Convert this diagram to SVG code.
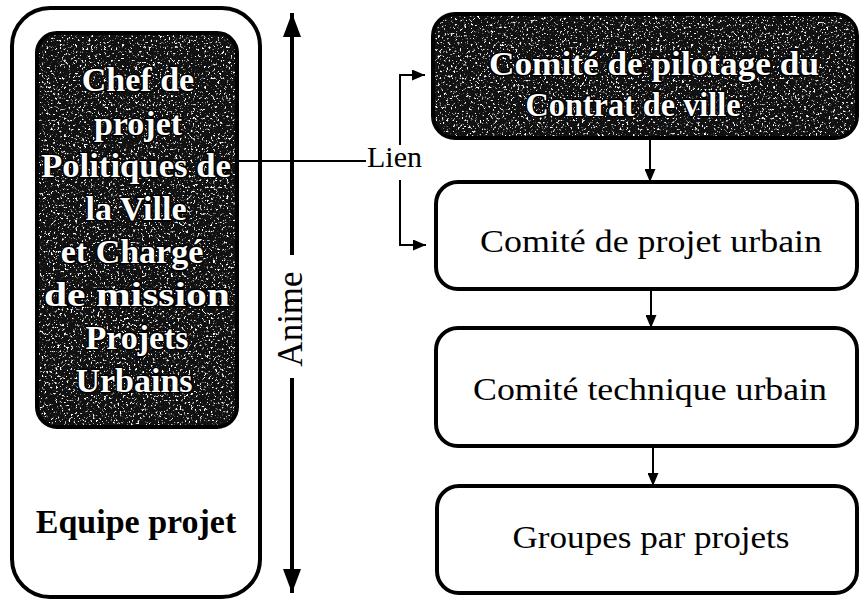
<svg xmlns="http://www.w3.org/2000/svg" width="861" height="600" viewBox="0 0 861 600">
<style>
.box{fill:#fff;stroke:#000;stroke-width:4}
.dark{fill:none;stroke:#000;stroke-width:4}
.t{font-family:"Liberation Serif","Times New Roman",serif;fill:#000}
.inv{font-family:"Liberation Serif","Times New Roman",serif;font-weight:bold;fill:#fff;stroke:#000;stroke-width:3;paint-order:stroke;stroke-linejoin:round}
.c{stroke:#000;stroke-width:2;fill:none}
.cb{stroke:#000;stroke-width:4;fill:none}
</style>
<defs>
<filter id="speck" x="0" y="0" width="100%" height="100%" filterUnits="objectBoundingBox">
<feTurbulence type="fractalNoise" baseFrequency="0.45" numOctaves="3" seed="7" result="t"/>
<feColorMatrix in="t" type="matrix" values="0 0 0 0 1  0 0 0 0 1  0 0 0 0 1  8 0 0 0 -4.8"/>
</filter>
<clipPath id="clipL"><rect x="37" y="33" width="200" height="394" rx="20"/></clipPath>
<clipPath id="clipT"><rect x="433" y="14" width="424" height="124" rx="22"/></clipPath>
<marker id="as" markerUnits="userSpaceOnUse" markerWidth="13" markerHeight="11" refX="13" refY="5.5" orient="auto"><path d="M0,0 L13,5.5 L0,11 z" fill="#000"/></marker>
<marker id="ab" markerUnits="userSpaceOnUse" markerWidth="24" markerHeight="18" refX="24" refY="9" orient="auto"><path d="M0,0 L24,9 L0,18 z" fill="#000"/></marker>
</defs>
<rect width="861" height="600" fill="#fff"/>

<g id="equipe-projet">
<rect class="box" x="12" y="8" width="248" height="589" rx="38"/>
<text class="t" x="136" y="533" font-size="34" font-weight="bold" text-anchor="middle">Equipe projet</text>
</g>

<g id="chef-de-projet">
<g clip-path="url(#clipL)">
<rect x="37" y="33" width="200" height="394" fill="#111"/>
<rect x="37" y="33" width="200" height="394" filter="url(#speck)"/>
</g>
<rect class="dark" x="37" y="33" width="200" height="394" rx="20"/>
<g class="inv" font-size="34" text-anchor="middle">
<text x="138" y="91">Chef de</text>
<text x="138" y="135">projet</text>
<text x="136" y="177" textLength="190" lengthAdjust="spacingAndGlyphs">Politiques de</text>
<text x="136" y="220">la Ville</text>
<text x="132" y="263">et Chargé</text>
<text x="137" y="306" textLength="186" lengthAdjust="spacingAndGlyphs">de mission</text>
<text x="137" y="349">Projets</text>
<text x="134" y="392">Urbains</text>
</g>
</g>

<g id="comite-pilotage">
<g clip-path="url(#clipT)">
<rect x="433" y="14" width="424" height="124" fill="#111"/>
<rect x="433" y="14" width="424" height="124" filter="url(#speck)"/>
</g>
<rect class="dark" x="433" y="14" width="424" height="124" rx="22"/>
<g class="inv" font-size="33" text-anchor="middle">
<text x="654" y="75" textLength="330" lengthAdjust="spacingAndGlyphs">Comité de pilotage du</text>
<text x="633" y="116" textLength="215" lengthAdjust="spacingAndGlyphs">Contrat de ville</text>
</g>
</g>

<g id="comite-projet-urbain">
<rect class="box" x="436" y="182" width="421" height="107" rx="22"/>
<text class="t" x="651" y="252" font-size="32" text-anchor="middle" textLength="342" lengthAdjust="spacingAndGlyphs">Comité de projet urbain</text>
</g>

<g id="comite-technique-urbain">
<rect class="box" x="436" y="328" width="421" height="118" rx="22"/>
<text class="t" x="650" y="400" font-size="32" text-anchor="middle" textLength="354" lengthAdjust="spacingAndGlyphs">Comité technique urbain</text>
</g>

<g id="groupes-par-projets">
<rect class="box" x="437" y="486" width="420" height="107" rx="22"/>
<text class="t" x="651" y="548" font-size="32" text-anchor="middle" textLength="277" lengthAdjust="spacingAndGlyphs">Groupes par projets</text>
</g>

<g id="connectors">
<line class="cb" x1="292" y1="255" x2="292" y2="13" marker-end="url(#ab)"/>
<line class="cb" x1="292" y1="378" x2="292" y2="593" marker-end="url(#ab)"/>
<text class="t" font-size="35" text-anchor="middle" transform="translate(302,319) rotate(-90)">Anime</text>
<line class="c" x1="237" y1="161" x2="366" y2="161"/>
<text class="t" x="367" y="167" font-size="30">Lien</text>
<polyline class="c" points="400,145 400,75 425,75" marker-end="url(#as)"/>
<polyline class="c" points="400,180 400,245 426,245" marker-end="url(#as)"/>
<line class="c" x1="650" y1="138" x2="650" y2="182" marker-end="url(#as)"/>
<line class="c" x1="651" y1="289" x2="651" y2="328" marker-end="url(#as)"/>
<line class="c" x1="653" y1="446" x2="653" y2="486" marker-end="url(#as)"/>
</g>
</svg>
